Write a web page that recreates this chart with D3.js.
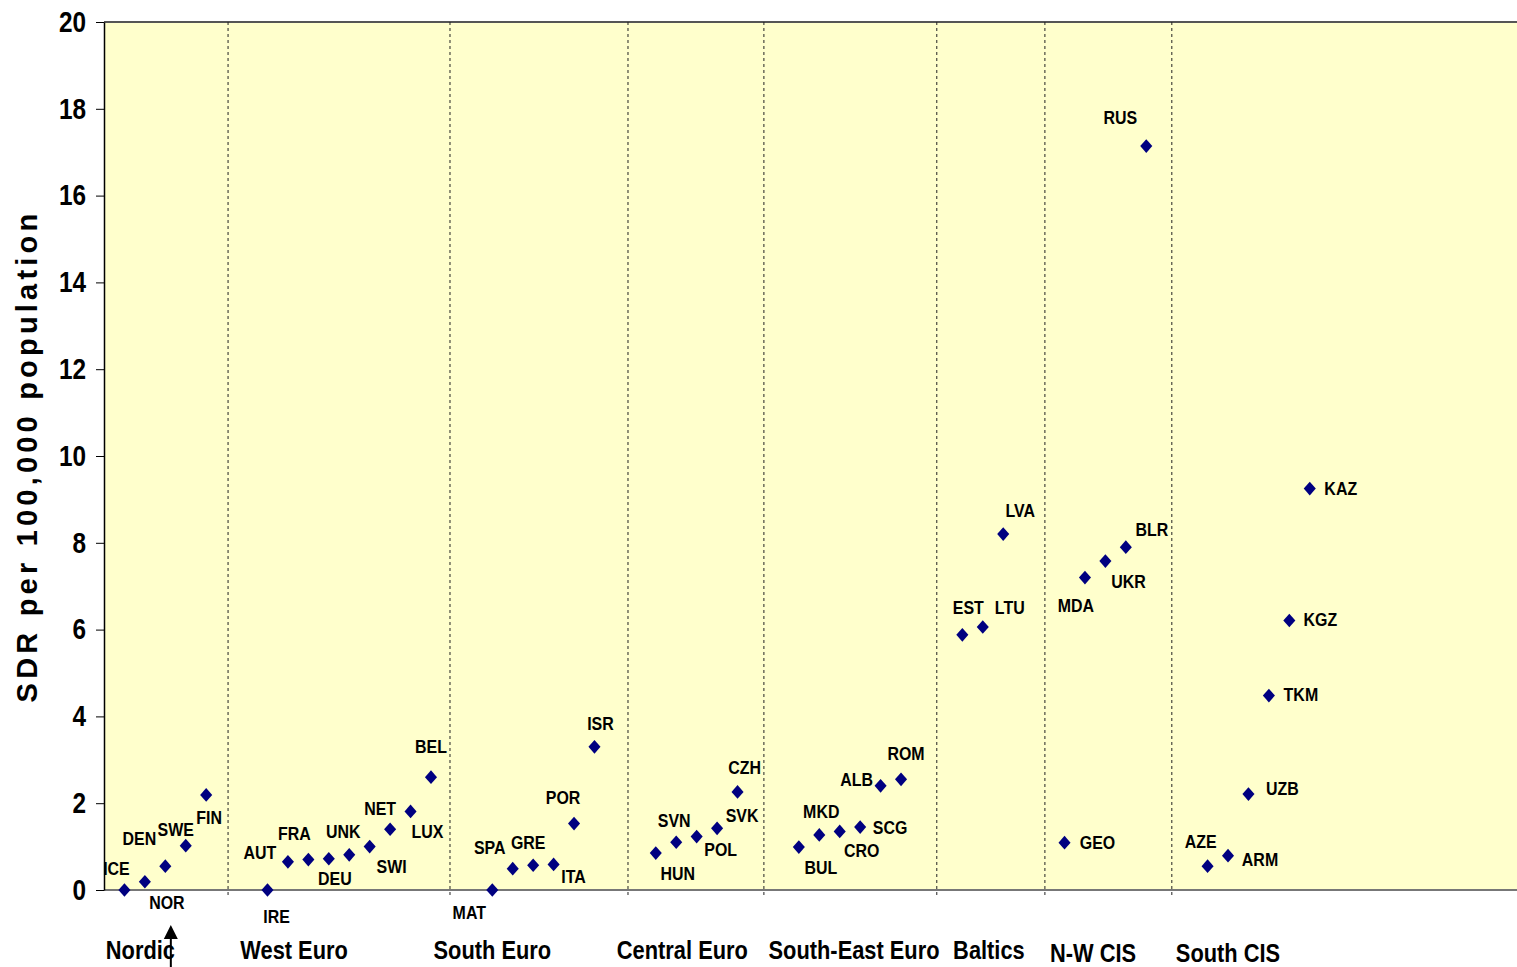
<!DOCTYPE html>
<html>
<head>
<meta charset="utf-8">
<script src="https://cdn.jsdelivr.net/npm/d3@7"></script>
<style>
  html, body { margin: 0; padding: 0; background: #fff; }
  svg { display: block; }
  .narrow { font-family: "Liberation Sans", Arial, sans-serif; font-weight: bold; }
</style>
</head>
<body>
<script>
// countries, in plotting order
var countries = ["ICE","NOR","DEN","SWE","FIN",
  "IRE","AUT","FRA","DEU","UNK","SWI","NET","LUX","BEL",
  "MAT","SPA","GRE","ITA","POR","ISR",
  "HUN","SVN","POL","SVK","CZH",
  "BUL","MKD","CRO","SCG","ALB","ROM",
  "EST","LTU","LVA",
  "GEO","MDA","UKR","BLR","RUS",
  "AZE","ARM","UZB","TKM","KGZ","KAZ"];
// x values (position along the axis)
var slots = [0,1,2,3,4,
  7,8,9,10,11,12,13,14,15,
  18,19,20,21,22,23,
  26,27,28,29,30,
  33,34,35,36,37,38,
  41,42,43,
  46,47,48,49,50,
  53,54,55,56,57,58];
// SDR per 100,000 population
var sdr = [0,0.19,0.55,1.02,2.19,
  0,0.65,0.70,0.72,0.81,1.0,1.40,1.81,2.60,
  0,0.49,0.57,0.59,1.53,3.30,
  0.85,1.10,1.23,1.42,2.26,
  0.99,1.27,1.35,1.45,2.40,2.55,
  5.88,6.06,8.20,
  1.09,7.20,7.58,7.90,17.14,
  0.55,0.79,2.21,4.48,6.21,9.25];
// label offsets from each marker (px)
var labelDx = [-8,22,-26,-10,3, 9,-28,-14,6,-6,22,-10,17,0, -23,-23,-5,20,-11,6,
  22,-2,24,25,7, 22,2,22,30,-24,5, 6,27,17, 33,-9,23,26,-26, -7,32,34,32,31,31];
var labelDy = [-22,20,-28,-17,22, 26,-10,-26,19,-24,20,-21,20,-31, 22,-22,-23,12,-26,-24,
  20,-22,13,-13,-25, 20,-24,19,0,-7,-26, -28,-20,-24, -1,28,20,-18,-29, -25,3,-6,-1,-1,0];

var groupNames = ["Nordic","West Euro","South Euro","Central Euro","South-East Euro","Baltics","N-W CIS","South CIS"];
var groupCenters = [0.78,8.3,18,27.3,35.7,42.3,47.4,54];
var dividers = [5.07,15.93,24.64,31.29,39.75,45.04,51.25];
var yTicks = [0,2,4,6,8,10,12,14,16,18,20];

var W = 1517, H = 967;
var plotLeft = 104, plotTop = 22, plotBottom = 890;
var squeeze = 0.84; // narrow bold look

var svg = d3.select("body").append("svg").attr("width", W).attr("height", H);

var x = d3.scaleLinear().domain([-1, 70]).range([plotLeft, 1555]);
var y = d3.scaleLinear().domain([0, 20]).range([plotBottom, plotTop]);

// plot area
svg.append("rect").attr("x", plotLeft).attr("y", plotTop)
  .attr("width", x(70) - plotLeft).attr("height", plotBottom - plotTop)
  .attr("fill", "#FFFFCC");

svg.append("line").attr("x1", plotLeft).attr("x2", W).attr("y1", plotTop).attr("y2", plotTop)
  .attr("stroke", "#555").attr("stroke-width", 2);

// group dividers
svg.selectAll(".div").data(dividers).enter().append("line")
  .attr("x1", function(d) { return x(d); }).attr("x2", function(d) { return x(d); })
  .attr("y1", plotTop).attr("y2", plotBottom + 5)
  .attr("stroke", "#222").attr("stroke-width", 1).attr("stroke-dasharray", "3,3");

// x axis line
svg.append("line").attr("x1", plotLeft).attr("x2", W).attr("y1", plotBottom).attr("y2", plotBottom)
  .attr("stroke", "#777").attr("stroke-width", 2);

// y axis
var yAxis = svg.append("g").attr("transform", "translate(" + plotLeft + ",0)")
  .call(d3.axisLeft(y).tickValues(yTicks).tickSize(8).tickPadding(10).tickSizeOuter(0));
yAxis.select(".domain").attr("stroke", "#000").attr("stroke-width", 1.5);
yAxis.selectAll(".tick line").attr("stroke", "#000");
yAxis.selectAll(".tick text").each(function() {
  var t = d3.select(this);
  var tx = +t.attr("x");
  t.attr("x", null)
    .attr("transform", "translate(" + tx + ",0) scale(" + squeeze + ",1)")
    .attr("class", "narrow").attr("font-size", 29).attr("fill", "#000");
});

svg.append("text")
  .attr("transform", "translate(37," + (plotTop + plotBottom) / 2 + ") rotate(-90)")
  .attr("text-anchor", "middle")
  .attr("font-family", "'Liberation Sans', Arial, sans-serif")
  .attr("font-weight", "bold").attr("font-size", 29).attr("letter-spacing", 4.2)
  .text("SDR per 100,000 population");

// markers
var diamond = d3.symbol().type(d3.symbolDiamond2).size(120);
svg.selectAll(".pt").data(countries).enter().append("path")
  .attr("d", diamond)
  .attr("transform", function(d, i) { return "translate(" + x(slots[i]) + "," + y(sdr[i]) + ") scale(0.88,1)"; })
  .attr("fill", "#000080");

// country labels
svg.selectAll(".lab").data(countries).enter().append("text")
  .attr("class", "narrow")
  .attr("transform", function(d, i) {
    return "translate(" + (x(slots[i]) + labelDx[i]) + "," + (y(sdr[i]) + labelDy[i]) + ") scale(" + squeeze + ",1)";
  })
  .attr("dy", "0.36em").attr("text-anchor", "middle")
  .attr("font-size", 19).attr("fill", "#000")
  .text(function(d) { return d; });

// group names
svg.selectAll(".grp").data(groupNames).enter().append("text")
  .attr("class", "narrow")
  .attr("transform", function(d, i) {
    return "translate(" + x(groupCenters[i]) + "," + (i < 6 ? 959 : 962) + ") scale(" + squeeze + ",1)";
  })
  .attr("text-anchor", "middle").attr("font-size", 26).attr("fill", "#000")
  .text(function(d) { return d; });

// arrow under NOR
var ax = x(2.27);
svg.append("line").attr("x1", ax).attr("x2", ax).attr("y1", 934).attr("y2", 967)
  .attr("stroke", "#000").attr("stroke-width", 2);
svg.append("path")
  .attr("d", "M" + ax + ",925 L" + (ax - 7) + ",939 L" + (ax + 7) + ",939 Z")
  .attr("fill", "#000");
</script>
</body>
</html>
